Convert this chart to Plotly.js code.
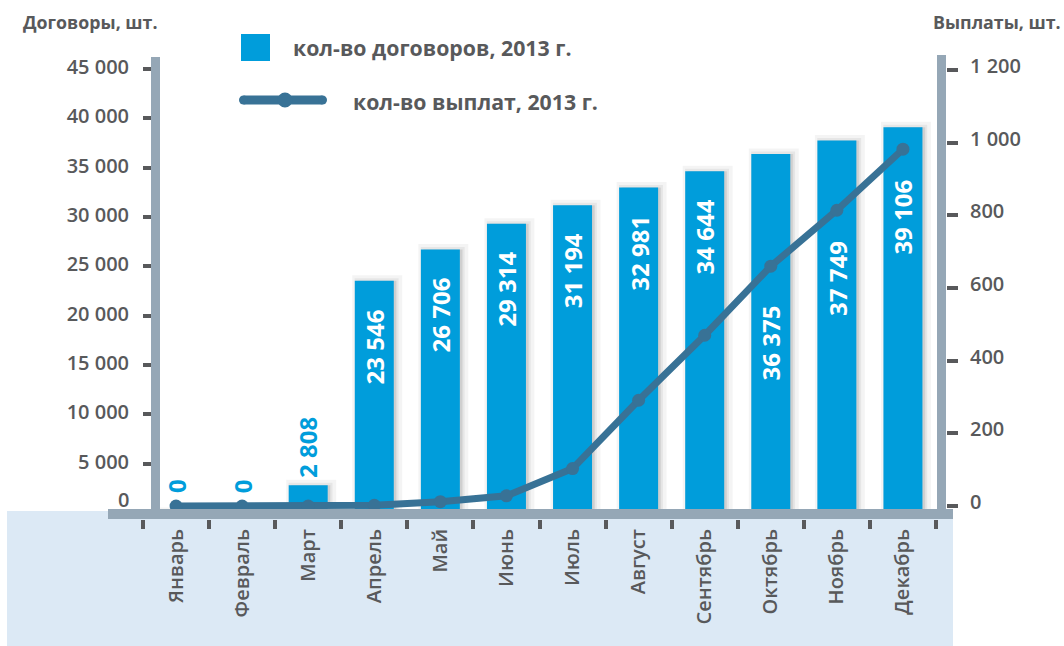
<!DOCTYPE html>
<html>
<head>
<meta charset="utf-8">
<script src="https://cdn.plot.ly/plotly-3.0.1.min.js"></script>
<style>html,body{margin:0;padding:0;background:#fff;}#chart{width:1064px;height:646px;}</style>
</head>
<body>
<div id="chart"></div>
<script>
// ---- data ----
const months = ['Январь','Февраль','Март','Апрель','Май','Июнь','Июль','Август','Сентябрь','Октябрь','Ноябрь','Декабрь'];
const contracts = [0, 0, 2808, 23546, 26706, 29314, 31194, 32981, 34644, 36375, 37749, 39106];
const payouts = [0, 0, 0, 2, 12, 28, 103, 291, 470, 660, 814, 982];
const seriesNames = ['кол-во договоров, 2013 г.', 'кол-во выплат, 2013 г.'];
const axisTitles = ['Договоры, шт.', 'Выплаты, шт.'];
const leftTicks = [5000, 10000, 15000, 20000, 25000, 30000, 35000, 40000, 45000];
const rightTicks = [0, 200, 400, 600, 800, 1000, 1200];

// ---- style ----
const BLUE = '#009ddb', LINE = '#387296', TXT = '#58595b', AXIS = '#95a7b6', BAND = '#dce9f5';
const FONT = 'Open Sans, Noto Sans, sans-serif';
const W = 1064, H = 646, L = 100, R = 100, T = 62, B = 127;
const pw = W - L - R, ph = H - T - B;
const px = x => (x - L) / pw;
const py = y => (H - B - y) / ph;
// label vertical shift in px (style only)
const labelShift = [18, 18, 5, -27, -26, -26, -26, -26, -26, -149, -98, -50];

const fmt = v => String(v).replace(/\B(?=(\d{3})+(?!\d))/g, ' ');

const shadow1 = {
  type: 'bar', x: months, y: contracts, width: 0.59, offset: -0.295 + 0.045,
  marker: {color: 'rgba(0,0,0,0.05)', line: {color: 'rgba(0,0,0,0.045)', width: 11}},
  hoverinfo: 'skip', showlegend: false
};
const shadow2 = {
  type: 'bar', x: months, y: contracts, width: 0.59, offset: -0.295 + 0.035,
  marker: {color: 'rgba(0,0,0,0.05)', line: {color: 'rgba(0,0,0,0.055)', width: 5}},
  hoverinfo: 'skip', showlegend: false
};
const bars = {
  type: 'bar', name: seriesNames[0], x: months, y: contracts, width: 0.59,
  marker: {color: BLUE, line: {width: 0}}, showlegend: false
};
const line = {
  type: 'scatter', mode: 'lines+markers', name: seriesNames[1], x: months, y: payouts, yaxis: 'y2',
  line: {color: LINE, width: 7}, marker: {color: LINE, size: 13}, showlegend: false, cliponaxis: false
};

const annotations = contracts.map((v, i) => {
  const inside = v > 10000;
  return {
    x: months[i], y: v, xref: 'x', yref: 'y', text: fmt(v), textangle: -90, showarrow: false,
    yanchor: inside ? 'top' : 'bottom', yshift: labelShift[i],
    font: {family: FONT, size: 24, weight: 700, color: inside ? '#ffffff' : BLUE}
  };
});
const txtFont = (size) => ({family: FONT, size: size, weight: 700, color: TXT});
annotations.push(
  {xref: 'paper', yref: 'paper', x: px(21), y: py(22), xanchor: 'left', yanchor: 'middle', showarrow: false,
   text: axisTitles[0], font: txtFont(17.8)},
  {xref: 'paper', yref: 'paper', x: px(1063), y: py(22), xanchor: 'right', yanchor: 'middle', showarrow: false,
   text: axisTitles[1], font: txtFont(17.8)},
  {xref: 'paper', yref: 'paper', x: px(291), y: py(47), xanchor: 'left', yanchor: 'middle', showarrow: false,
   text: seriesNames[0], font: txtFont(21.3)},
  {xref: 'paper', yref: 'paper', x: px(351), y: py(101), xanchor: 'left', yanchor: 'middle', showarrow: false,
   text: seriesNames[1], font: txtFont(21.3)},
  {xref: 'paper', yref: 'paper', x: px(131), y: py(499), xanchor: 'right', yanchor: 'middle', showarrow: false,
   text: '0', font: {family: FONT, size: 20, weight: 600, color: TXT}}
);

const rect = (x0, y0, x1, y1, color, layer) => ({
  type: 'rect', xref: 'paper', yref: 'paper', x0: px(x0), x1: px(x1), y0: py(y1), y1: py(y0),
  fillcolor: color, line: {width: 0}, layer: layer
});
const circ = (cx, cy, r, color) => ({
  type: 'circle', xref: 'paper', yref: 'paper', x0: px(cx - r), x1: px(cx + r), y0: py(cy + r), y1: py(cy - r),
  fillcolor: color, line: {width: 0}, layer: 'above'
});

const shapes = [
  rect(7, 511, 953, 646, BAND, 'below'),
  rect(108, 509, 953, 519, AXIS, 'above'),
  rect(151, 57, 160, 519, AXIS, 'above'),
  rect(937, 55, 946, 519, AXIS, 'above'),
  // legend
  rect(241, 34, 270, 61, BLUE, 'above'),
  {type: 'line', xref: 'paper', yref: 'paper', x0: px(243.5), x1: px(322.5), y0: py(100), y1: py(100),
   line: {color: LINE, width: 9}, layer: 'above'},
  circ(243.5, 100, 4.5, LINE), circ(322.5, 100, 4.5, LINE), circ(285, 100, 7.5, LINE)
];

// left axis: 0 at y=513px, 45000 at y=69px ; right axis: 0 at 506px, 1200 at 70px
const L0 = 513, L45 = 69, R0 = 506, R12 = 70;
const kL = (L0 - L45) / 45000, kR = (R0 - R12) / 1200;
const leftRange = [-(H - B - L0) / kL, 45000 + (L45 - T) / kL];
const rightRange = [-(H - B - R0) / kR, 1200 + (R12 - T) / kR];

const layout = {
  width: W, height: H, margin: {l: L, r: R, t: T, b: B, pad: 0},
  paper_bgcolor: '#ffffff', plot_bgcolor: 'rgba(0,0,0,0)',
  barmode: 'overlay', showlegend: false, separators: ', ',
  font: {family: FONT, color: TXT},
  xaxis: {
    domain: [px(143), px(936)], type: 'category', range: [-0.5, 11.5], tickson: 'boundaries',
    ticks: 'outside', ticklen: 9, tickwidth: 4, tickcolor: TXT,
    tickangle: -90, ticklabelstandoff: 5,
    tickfont: {family: FONT, size: 20, weight: 600, color: TXT},
    showline: false, showgrid: false, zeroline: false, fixedrange: true
  },
  yaxis: {
    anchor: 'free', position: px(151), range: leftRange, tickvals: leftTicks,
    separatethousands: true, tickformat: ',d',
    ticks: 'outside', ticklen: 8, tickwidth: 4, tickcolor: TXT, ticklabelstandoff: 10, ticklabelshift: -2,
    tickfont: {family: FONT, size: 20, weight: 600, color: TXT},
    showline: false, showgrid: false, zeroline: false, fixedrange: true
  },
  yaxis2: {
    overlaying: 'y', side: 'right', anchor: 'free', position: px(946), range: rightRange,
    tickvals: rightTicks, separatethousands: true, tickformat: ',d',
    ticks: 'outside', ticklen: 11, tickwidth: 4, tickcolor: TXT, ticklabelstandoff: 8, ticklabelshift: -4,
    tickfont: {family: FONT, size: 20, weight: 600, color: TXT},
    showline: false, showgrid: false, zeroline: false, fixedrange: true
  },
  shapes: shapes, annotations: annotations
};

Plotly.newPlot('chart', [shadow1, shadow2, bars, line], layout, {displayModeBar: false, staticPlot: true});
</script>
</body>
</html>
